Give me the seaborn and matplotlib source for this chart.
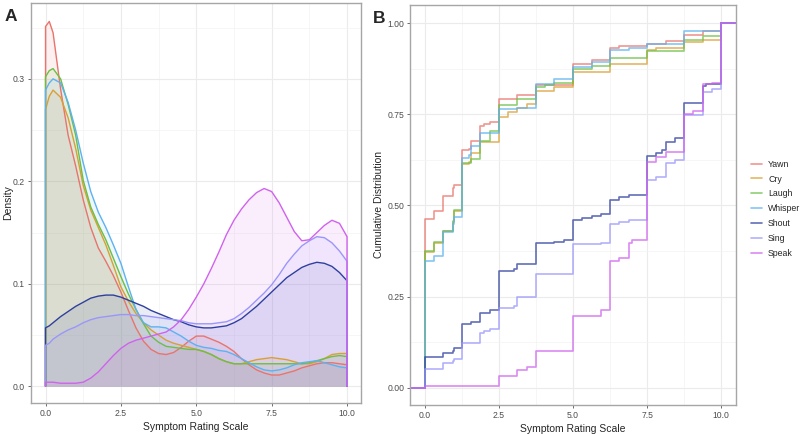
import matplotlib
matplotlib.use("Agg")
import matplotlib.pyplot as plt
import seaborn as sns
import numpy as np

# series names and colours
labels = ["Yawn", "Cry", "Laugh", "Whisper", "Shout", "Sing", "Speak"]
colors = ["#E9746C", "#D9A033", "#6CBF45", "#5DB2F0", "#2E3F9E", "#9A96FA", "#D062EE"]

# Panel A: density curves
dens_x = [0, 0.125, 0.25, 0.5, 0.75, 1.0, 1.25, 1.5, 1.75, 2.0, 2.25, 2.5, 2.75, 3.0,
          3.25, 3.5, 3.75, 4.0, 4.25, 4.5, 4.75, 5.0, 5.25, 5.5, 5.75, 6.0, 6.25, 6.5,
          6.75, 7.0, 7.25, 7.5, 7.75, 8.0, 8.25, 8.5, 8.75, 9.0, 9.25, 9.5, 9.75, 10.0]
dens_yawn = [0.351, 0.356, 0.345, 0.29, 0.245, 0.215, 0.182, 0.155, 0.135, 0.122, 0.108, 0.092,
             0.074, 0.057, 0.044, 0.036, 0.032, 0.031, 0.033, 0.038, 0.044, 0.049, 0.049, 0.046,
             0.043, 0.039, 0.034, 0.027, 0.021, 0.016, 0.013, 0.011, 0.011, 0.013, 0.015, 0.018,
             0.020, 0.022, 0.023, 0.023, 0.022, 0.021]
dens_cry = [0.270, 0.283, 0.289, 0.282, 0.262, 0.232, 0.196, 0.172, 0.155, 0.138, 0.118, 0.097,
            0.083, 0.071, 0.062, 0.055, 0.050, 0.045, 0.042, 0.040, 0.038, 0.036, 0.034, 0.031,
            0.027, 0.024, 0.022, 0.022, 0.024, 0.026, 0.027, 0.028, 0.027, 0.026, 0.024, 0.022,
            0.022, 0.024, 0.027, 0.031, 0.032, 0.032]
dens_laugh = [0.302, 0.308, 0.310, 0.300, 0.275, 0.245, 0.201, 0.175, 0.158, 0.143, 0.125, 0.107,
              0.090, 0.075, 0.061, 0.049, 0.043, 0.039, 0.038, 0.037, 0.036, 0.036, 0.034, 0.031,
              0.027, 0.024, 0.022, 0.022, 0.022, 0.022, 0.022, 0.022, 0.022, 0.022, 0.022, 0.022,
              0.023, 0.025, 0.027, 0.029, 0.030, 0.029]
dens_whisper = [0.289, 0.296, 0.300, 0.296, 0.277, 0.250, 0.218, 0.190, 0.170, 0.155, 0.138, 0.120,
                0.097, 0.075, 0.062, 0.058, 0.058, 0.057, 0.053, 0.049, 0.044, 0.040, 0.038, 0.037,
                0.035, 0.034, 0.031, 0.027, 0.023, 0.019, 0.016, 0.015, 0.016, 0.018, 0.021, 0.023,
                0.024, 0.025, 0.023, 0.021, 0.019, 0.018]
dens_shout = [0.057, 0.059, 0.062, 0.068, 0.073, 0.078, 0.082, 0.086, 0.088, 0.089, 0.089, 0.087,
              0.084, 0.081, 0.078, 0.074, 0.071, 0.068, 0.065, 0.063, 0.060, 0.058, 0.057, 0.057,
              0.058, 0.059, 0.062, 0.066, 0.072, 0.078, 0.085, 0.092, 0.099, 0.106, 0.111, 0.116,
              0.119, 0.121, 0.120, 0.117, 0.111, 0.103]
dens_sing = [0.040, 0.042, 0.046, 0.051, 0.055, 0.058, 0.062, 0.065, 0.067, 0.068, 0.069, 0.070,
             0.070, 0.069, 0.069, 0.068, 0.067, 0.066, 0.065, 0.064, 0.062, 0.061, 0.061, 0.061,
             0.062, 0.063, 0.066, 0.071, 0.077, 0.084, 0.091, 0.099, 0.109, 0.120, 0.129, 0.137,
             0.142, 0.146, 0.145, 0.140, 0.132, 0.122]
dens_speak = [0.004, 0.004, 0.004, 0.003, 0.003, 0.003, 0.004, 0.008, 0.014, 0.022, 0.030, 0.037,
              0.042, 0.045, 0.047, 0.049, 0.051, 0.053, 0.058, 0.065, 0.075, 0.087, 0.100, 0.115,
              0.131, 0.148, 0.162, 0.173, 0.182, 0.189, 0.193, 0.190, 0.179, 0.165, 0.151, 0.142,
              0.143, 0.150, 0.157, 0.162, 0.159, 0.146]
densities = [dens_yawn, dens_cry, dens_laugh, dens_whisper, dens_shout, dens_sing, dens_speak]

# Panel B: empirical CDF steps (x where the step happens, value after it)
ecdf_yawn_x = [0, 0.3125, 0.625, 0.9375, 1.0, 1.25, 1.5, 1.5625, 1.875, 2.0, 2.1875, 2.5, 3.125,
               3.75, 5.0, 5.625, 6.25, 6.5625, 7.5, 8.125, 8.75, 9.375, 10]
ecdf_yawn_y = [0.463, 0.486, 0.527, 0.547, 0.555, 0.651, 0.656, 0.677, 0.718, 0.724, 0.729, 0.792,
               0.803, 0.830, 0.888, 0.900, 0.933, 0.938, 0.944, 0.950, 0.967, 0.977, 1.0]
ecdf_cry_x = [0, 0.3125, 0.625, 0.9375, 1.0, 1.25, 1.5, 1.5625, 1.875, 2.5, 2.8125, 3.125, 3.4375,
              3.75, 4.375, 5.0, 6.25, 7.5, 7.8125, 8.75, 9.375, 10]
ecdf_cry_y = [0.372, 0.397, 0.429, 0.455, 0.484, 0.613, 0.620, 0.644, 0.673, 0.743, 0.755, 0.768,
              0.777, 0.813, 0.825, 0.866, 0.889, 0.927, 0.932, 0.949, 0.955, 1.0]
ecdf_laugh_x = [0, 0.3125, 0.625, 0.9375, 1.0, 1.25, 1.5625, 1.875, 2.1875, 2.5, 3.125, 3.75,
                4.0625, 4.375, 5.0, 5.625, 6.25, 7.5, 8.75, 9.375, 10]
ecdf_laugh_y = [0.374, 0.399, 0.431, 0.457, 0.487, 0.615, 0.626, 0.676, 0.703, 0.776, 0.792, 0.825,
                0.830, 0.837, 0.873, 0.883, 0.905, 0.923, 0.955, 0.965, 1.0]
ecdf_whisper_x = [0, 0.3125, 0.625, 0.9375, 1.0, 1.25, 1.5, 1.5625, 1.875, 2.5, 3.125, 3.75, 4.375,
                  5.0, 5.625, 6.25, 6.875, 7.5, 8.75, 10]
ecdf_whisper_y = [0.348, 0.361, 0.427, 0.448, 0.468, 0.629, 0.638, 0.664, 0.699, 0.764, 0.768,
                  0.832, 0.848, 0.880, 0.893, 0.927, 0.933, 0.942, 0.979, 1.0]
ecdf_shout_x = [0, 0.625, 0.9375, 1.0, 1.25, 1.5625, 1.875, 2.1875, 2.5, 3.0, 3.125, 3.75, 4.375,
                4.6875, 5.0, 5.3125, 5.625, 5.9375, 6.25, 6.5625, 6.875, 7.5, 7.8125, 8.0, 8.125,
                8.4375, 8.75, 9.375, 9.5, 10]
ecdf_shout_y = [0.085, 0.096, 0.101, 0.108, 0.174, 0.179, 0.205, 0.213, 0.320, 0.325, 0.338, 0.396,
                0.400, 0.405, 0.460, 0.466, 0.471, 0.476, 0.516, 0.523, 0.528, 0.635, 0.645, 0.652,
                0.674, 0.686, 0.781, 0.827, 0.832, 1.0]
ecdf_sing_x = [0, 0.625, 0.9375, 1.0, 1.25, 1.875, 2.0, 2.1875, 2.5, 3.0, 3.125, 3.75, 5.0, 5.9375,
               6.25, 6.5625, 6.875, 7.5, 7.8125, 8.125, 8.4375, 8.75, 9.375, 9.6875, 10]
ecdf_sing_y = [0.051, 0.067, 0.072, 0.080, 0.124, 0.149, 0.155, 0.160, 0.220, 0.225, 0.249, 0.313,
               0.394, 0.398, 0.449, 0.454, 0.460, 0.570, 0.577, 0.615, 0.624, 0.748, 0.812, 0.818, 1.0]
ecdf_speak_x = [0, 2.5, 3.125, 3.4375, 3.75, 5.0, 5.9375, 6.25, 6.5625, 6.875, 7.0, 7.5, 7.8125,
                8.125, 8.75, 9.0625, 9.375, 9.6875, 10]
ecdf_speak_y = [0.005, 0.033, 0.049, 0.057, 0.100, 0.196, 0.213, 0.348, 0.357, 0.398, 0.404, 0.618,
                0.633, 0.647, 0.750, 0.758, 0.833, 0.837, 1.0]
ecdf_x = [ecdf_yawn_x, ecdf_cry_x, ecdf_laugh_x, ecdf_whisper_x, ecdf_shout_x, ecdf_sing_x, ecdf_speak_x]
ecdf_y = [ecdf_yawn_y, ecdf_cry_y, ecdf_laugh_y, ecdf_whisper_y, ecdf_shout_y, ecdf_sing_y, ecdf_speak_y]

sns.set_theme(style="whitegrid")
plt.rcParams["font.family"] = ["Liberation Sans", "DejaVu Sans"]
plt.rcParams["axes.edgecolor"] = "#A6A6A6"
plt.rcParams["grid.color"] = "#EBEBEB"

fig = plt.figure(figsize=(8, 4.34), dpi=100)
axA = fig.add_axes([0.039, 0.0714, 0.4125, 0.9217])
axB = fig.add_axes([0.513, 0.0668, 0.4067, 0.922])

# --- A: density
for name, col, dens in zip(labels, colors, densities):
    axA.fill_between(dens_x, dens, 0, color=col, alpha=0.1, lw=0)
    sns.lineplot(x=[dens_x[0]] + dens_x + [dens_x[-1]], y=[0] + dens + [0], sort=False,
                 color=col, lw=1.0, ax=axA, estimator=None)
axA.set_xlim(-0.475, 10.47)
axA.set_ylim(-0.0163, 0.374)
axA.set_xticks([0, 2.5, 5, 7.5, 10])
axA.set_xticklabels(["0.0", "2.5", "5.0", "7.5", "10.0"])
axA.set_yticks([0, 0.1, 0.2, 0.3])
axA.set_yticklabels(["0.0", "0.1", "0.2", "0.3"])
axA.set_xticks([1.25, 3.75, 6.25, 8.75], minor=True)
axA.set_yticks([0.05, 0.15, 0.25, 0.35], minor=True)
axA.set_xlabel("Symptom Rating Scale", fontsize=7.5)
axA.set_ylabel("Density", fontsize=7.5)
axA.xaxis.set_label_coords(0.5, -0.048)
axA.yaxis.set_label_coords(-0.056, 0.5)

# --- B: ECDF steps
xlo, xhi = -0.486, 10.49
axB.set_xlim(xlo, xhi)
for name, col, xs, ys in zip(labels, colors, ecdf_x, ecdf_y):
    sns.lineplot(x=[xlo] + xs + [xhi], y=[0] + ys + [ys[-1]], drawstyle="steps-post",
                 color=col, alpha=0.75, lw=1.2, ax=axB, label=name, estimator=None)
axB.set_xlim(xlo, xhi)
axB.set_ylim(-0.0474, 1.05)
axB.set_xticks([0, 2.5, 5, 7.5, 10])
axB.set_xticklabels(["0.0", "2.5", "5.0", "7.5", "10.0"])
axB.set_yticks([0, 0.25, 0.5, 0.75, 1.0])
axB.set_yticklabels(["0.00", "0.25", "0.50", "0.75", "1.00"])
axB.set_xticks([1.25, 3.75, 6.25, 8.75], minor=True)
axB.set_yticks([0.125, 0.375, 0.625, 0.875], minor=True)
axB.set_xlabel("Symptom Rating Scale", fontsize=7.5)
axB.set_ylabel("Cumulative Distribution", fontsize=7.5)
axB.xaxis.set_label_coords(0.5, -0.048)
axB.yaxis.set_label_coords(-0.082, 0.5)
leg = axB.legend(loc="center left", bbox_to_anchor=(1.035, 0.49), frameon=False, fontsize=6.3,
                 handlelength=1.3, handletextpad=0.7, labelspacing=0.68, borderaxespad=0)
for h in leg.get_lines():
    h.set_linewidth(1.2)

for ax in (axA, axB):
    ax.grid(True, which="major", color="#EBEBEB", lw=0.8)
    ax.grid(True, which="minor", color="#F3F3F3", lw=0.5)
    ax.set_axisbelow(True)
    ax.tick_params(which="major", labelsize=6.2, labelcolor="#4D4D4D", length=2.5, width=0.6,
                   color="#555555", pad=2, bottom=True, left=True)
    ax.tick_params(which="minor", length=0)
    for s in ax.spines.values():
        s.set_color("#A6A6A6")
        s.set_linewidth(1.0)

fig.text(0.006, 0.963, "A", fontsize=12.5, fontweight="bold", va="center", ha="left")
fig.text(0.466, 0.958, "B", fontsize=12.5, fontweight="bold", va="center", ha="left")

fig.savefig("out.png", dpi=100)
